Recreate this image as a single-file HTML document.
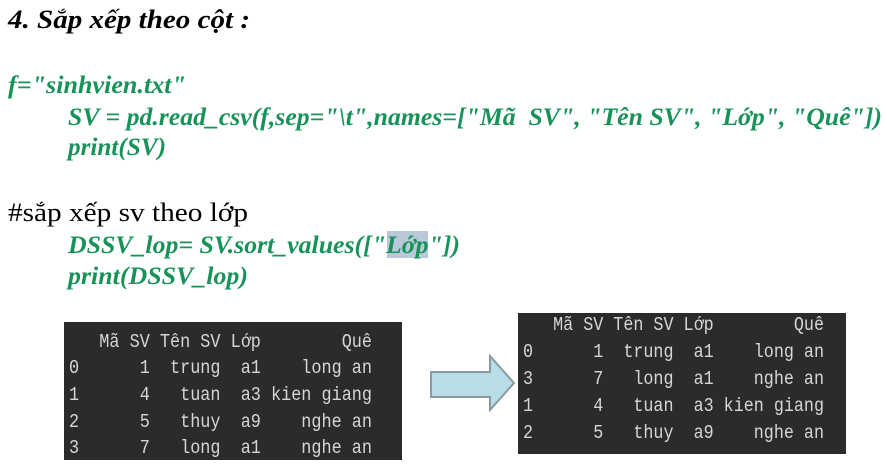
<!DOCTYPE html>
<html><head><meta charset="utf-8"><style>
html,body{margin:0;padding:0;background:#fff;width:887px;height:465px;overflow:hidden}
svg text{white-space:pre}
.g{font-family:"Liberation Serif",serif;font-style:italic;font-weight:bold;fill:#17935a}
.m{font-family:"Liberation Mono","DejaVu Sans Mono",monospace;font-size:19px;fill:#d6d6d6}
</style></head><body>
<svg width="887" height="465" viewBox="0 0 887 465" xmlns="http://www.w3.org/2000/svg">
<text x="8" y="28" font-family="Liberation Serif,serif" font-style="italic" font-weight="bold" font-size="26" textLength="242" lengthAdjust="spacingAndGlyphs">4. Sắp xếp theo cột :</text>
<text class="g" x="8" y="93" font-size="25" textLength="178" lengthAdjust="spacingAndGlyphs">f="sinhvien.txt"</text>
<text class="g" x="68" y="125" font-size="25" textLength="814" lengthAdjust="spacingAndGlyphs">SV = pd.read_csv(f,sep="\t",names=["Mã  SV", "Tên SV", "Lớp", "Quê"])</text>
<text class="g" x="68" y="155" font-size="25" textLength="98" lengthAdjust="spacingAndGlyphs">print(SV)</text>
<text x="8" y="221" font-family="Liberation Serif,serif" font-size="26" textLength="240" lengthAdjust="spacingAndGlyphs">#sắp xếp sv theo lớp</text>
<rect x="387" y="231" width="41" height="27" fill="#b9c9da"/>
<text class="g" x="68" y="253" font-size="25" textLength="392" lengthAdjust="spacingAndGlyphs">DSSV_lop= SV.sort_values(["Lớp"])</text>
<text class="g" x="68" y="284" font-size="25" textLength="180" lengthAdjust="spacingAndGlyphs">print(DSSV_lop)</text>

<rect x="64" y="322" width="338" height="138" fill="#2b2b2b"/>
<text class="m" x="69" y="347" textLength="303" lengthAdjust="spacingAndGlyphs">   Mã SV Tên SV Lớp        Quê</text>
<text class="m" x="69" y="373" textLength="303" lengthAdjust="spacingAndGlyphs">0      1  trung  a1    long an</text>
<text class="m" x="69" y="400" textLength="303" lengthAdjust="spacingAndGlyphs">1      4   tuan  a3 kien giang</text>
<text class="m" x="69" y="427" textLength="303" lengthAdjust="spacingAndGlyphs">2      5   thuy  a9    nghe an</text>
<text class="m" x="69" y="453" textLength="303" lengthAdjust="spacingAndGlyphs">3      7   long  a1    nghe an</text>

<polygon points="431,372 490,372 490,356 514,383 490,410 490,397 431,397" fill="#b8dde6" stroke="#8a9aa0" stroke-width="2"/>

<rect x="518" y="313" width="328" height="141" fill="#2b2b2b"/>
<text class="m" x="523" y="330" textLength="301" lengthAdjust="spacingAndGlyphs">   Mã SV Tên SV Lớp        Quê</text>
<text class="m" x="523" y="357" textLength="301" lengthAdjust="spacingAndGlyphs">0      1  trung  a1    long an</text>
<text class="m" x="523" y="384" textLength="301" lengthAdjust="spacingAndGlyphs">3      7   long  a1    nghe an</text>
<text class="m" x="523" y="411" textLength="301" lengthAdjust="spacingAndGlyphs">1      4   tuan  a3 kien giang</text>
<text class="m" x="523" y="438" textLength="301" lengthAdjust="spacingAndGlyphs">2      5   thuy  a9    nghe an</text>
</svg>
</body></html>
